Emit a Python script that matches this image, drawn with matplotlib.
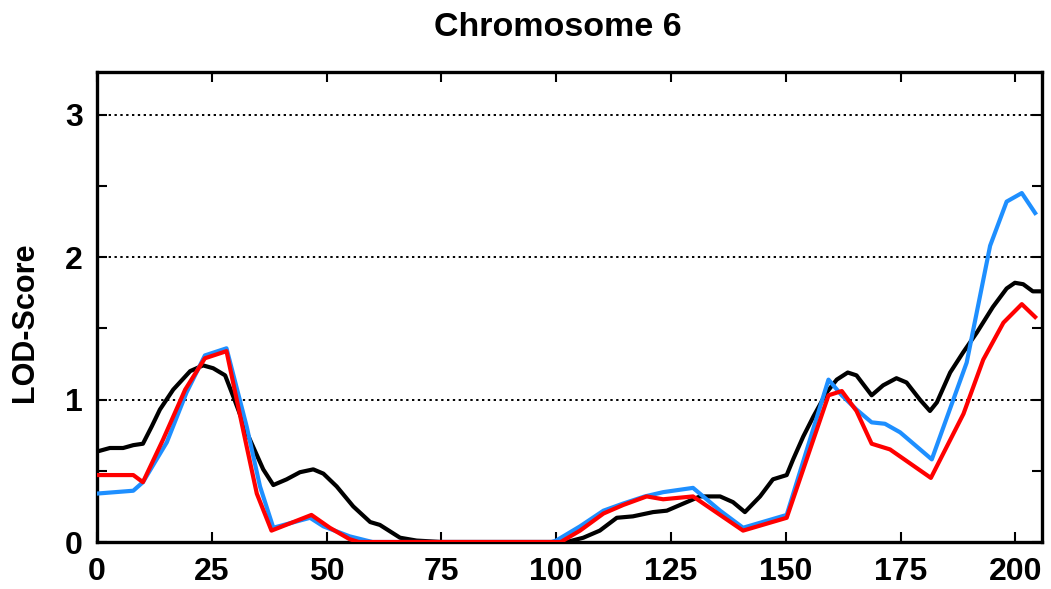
import matplotlib
matplotlib.use("Agg")
import matplotlib.pyplot as plt
from matplotlib.ticker import MultipleLocator, FixedLocator

# ---- data ----
black_x = [0, 2.8, 5.7, 7.9, 10, 11.9, 13.7, 16.6, 20.3, 23.1, 25.3, 27.9, 29.7, 32.6, 36.2,
           38.4, 41.3, 44.2, 47.1, 49.3, 52.2, 55.8, 59.5, 61.6, 66, 69.6, 75, 100, 102.3,
           105.9, 109.5, 113.2, 116.7, 121.1, 124.1, 127.7, 131.3, 135.7, 138.5, 141.1,
           144.4, 147.2, 150.2, 151.6, 153.8, 156, 158.9, 161.1, 163.5, 165.4, 168.7, 171.2,
           174.1, 176.3, 179.2, 181.4, 182.9, 185.8, 188.6, 191.6, 195.1, 198.1, 199.9,
           201.7, 203.8, 205.3]
black_y = [0.635, 0.66, 0.66, 0.68, 0.69, 0.81, 0.93, 1.07, 1.20, 1.24, 1.22, 1.17, 1.02, 0.77,
           0.51, 0.40, 0.44, 0.49, 0.51, 0.48, 0.39, 0.25, 0.14, 0.12, 0.03, 0.01, 0.0, 0.0, 0.0,
           0.03, 0.08, 0.17, 0.18, 0.21, 0.22, 0.27, 0.32, 0.32, 0.28, 0.21,
           0.32, 0.44, 0.47, 0.58, 0.74, 0.88, 1.05, 1.14, 1.19, 1.17, 1.03, 1.10,
           1.15, 1.12, 1.00, 0.92, 0.98, 1.19, 1.33, 1.47, 1.65, 1.78, 1.82,
           1.81, 1.76, 1.76]

blue_x = [0, 7.9, 10, 15.2, 19.5, 23.5, 28.2, 32.6, 35.5, 38.4, 46.4, 49.3, 55, 58.7, 60, 99,
          100, 105.2, 110.3, 114.6, 119.3, 123.3, 129.8, 135.7, 140.7, 150.2, 159.3, 162.2,
          165.4, 168.7, 171.6, 174.9, 181.8, 189.4, 194.5, 198.1, 201.4, 204.3]
blue_y = [0.34, 0.36, 0.42, 0.70, 1.05, 1.31, 1.36, 0.81, 0.39, 0.10, 0.17, 0.11, 0.04, 0.01, 0.0, 0.0,
          0.01, 0.11, 0.22, 0.27, 0.32, 0.35, 0.38, 0.22, 0.10, 0.19, 1.14, 1.03,
          0.93, 0.84, 0.83, 0.77, 0.58, 1.26, 2.08, 2.39, 2.45, 2.31]

red_x = [0, 7.9, 10, 14.4, 19.2, 23.5, 28.2, 31.8, 34.8, 38, 46.7, 50.7, 55, 57, 101,
         105.2, 110.3, 114.6, 119.7, 123.3, 129.8, 135.7, 140.7, 150.2, 159.3, 162.2,
         165.4, 168.7, 172.7, 181.6, 188.7, 193.0, 197.4, 201.4, 204.3]
red_y = [0.47, 0.47, 0.42, 0.72, 1.07, 1.29, 1.34, 0.79, 0.34, 0.08, 0.19, 0.10, 0.02, 0.0, 0.0,
         0.08, 0.20, 0.26, 0.32, 0.30, 0.32, 0.19, 0.08, 0.17, 1.03, 1.06,
         0.92, 0.69, 0.65, 0.45, 0.90, 1.28, 1.54, 1.67, 1.58]

x_ticks = [0, 25, 50, 75, 100, 125, 150, 175, 200]
y_ticks = [0, 1, 2, 3]
grid_levels = [1, 2, 3]
title = "Chromosome 6"
ylabel = "LOD-Score"

# ---- figure ----
plt.rcParams['font.family'] = ['Liberation Sans', 'DejaVu Sans']
fig = plt.figure(figsize=(10.51, 5.89), dpi=100)
ax = fig.add_axes([97 / 1051, 47 / 589, (1042 - 97) / 1051, (542 - 72) / 589])

for g in grid_levels:
    ax.axhline(g, color='black', linestyle=(0, (1.2, 1.8)), linewidth=1.4, zorder=1)

ax.plot(black_x, black_y, color='black', linewidth=3.0, zorder=3, solid_joinstyle='round')
ax.plot(blue_x, blue_y, color='#1E8FFF', linewidth=3.0, zorder=4, solid_joinstyle='round')
ax.plot(red_x, red_y, color='#FF0000', linewidth=3.0, zorder=5, solid_joinstyle='round')

ax.set_xlim(0, 205.8)
ax.set_ylim(0, 3.3)
ax.xaxis.set_major_locator(FixedLocator(x_ticks))
ax.yaxis.set_major_locator(FixedLocator(y_ticks))
ax.yaxis.set_minor_locator(MultipleLocator(0.5))

ax.tick_params(axis='both', which='both', direction='in', top=True, right=True,
               width=1.5, color='black')
ax.tick_params(axis='both', which='major', length=7)
ax.tick_params(axis='y', which='minor', length=7)
ax.tick_params(axis='x', which='major', labelsize=23, pad=11)
ax.tick_params(axis='y', which='major', labelsize=23, pad=10)
for lab in ax.get_xticklabels() + ax.get_yticklabels():
    lab.set_fontweight('bold')

for s in ax.spines.values():
    s.set_linewidth(2.4)
    s.set_color('black')

fig.text(0.531, 1 - 27 / 589, title, ha='center', va='center', fontsize=24.5, fontweight='bold')
ax.set_ylabel(ylabel, fontsize=22, fontweight='bold')
ax.yaxis.set_label_coords(-57 / 945, (542 - 322) / 470)

fig.savefig('out.png', dpi=100)
